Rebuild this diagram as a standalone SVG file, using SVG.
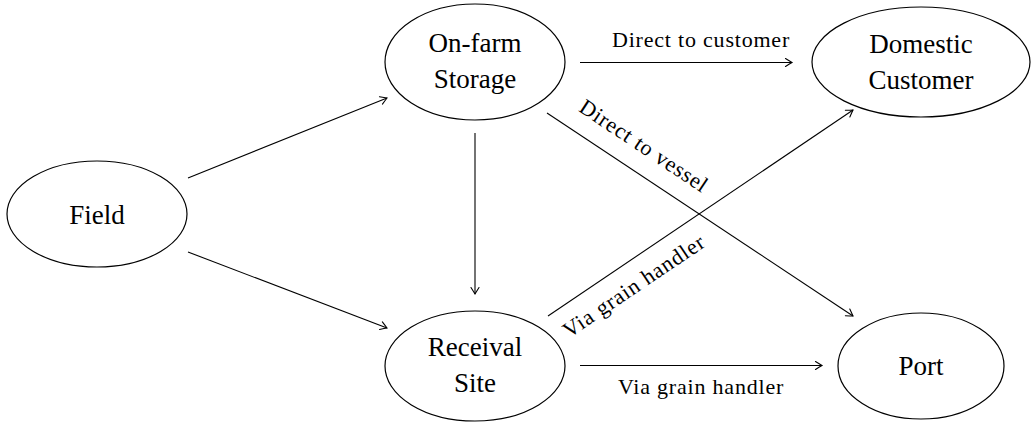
<svg xmlns="http://www.w3.org/2000/svg" width="1035" height="424" viewBox="0 0 1035 424">
  <style>
    .node ellipse { fill: #ffffff; stroke: #000000; stroke-width: 1.2; }
    .node text { font-family: "Liberation Serif", "DejaVu Serif", serif; font-size: 27px; fill: #000000; text-anchor: middle; }
    .edges line { stroke: #000000; stroke-width: 1.1; marker-end: url(#arrow); }
    .lbl { font-family: "Liberation Serif", "DejaVu Serif", serif; font-size: 22px; letter-spacing: 0.8px; fill: #000000; text-anchor: middle; }
  </style>
  <defs>
    <marker id="arrow" viewBox="-8 -5 10 10" refX="0" refY="0" markerWidth="10" markerHeight="10" markerUnits="userSpaceOnUse" orient="auto">
      <path d="M -6.5 -4 Q -2 -1.2 0 0 Q -2 1.2 -6.5 4" fill="none" stroke="#000000" stroke-width="1.1" stroke-linecap="round"/>
    </marker>
  </defs>
  <rect width="1035" height="424" fill="#ffffff"/>

  <g class="edges">
    <line x1="188" y1="178" x2="387" y2="98"/>
    <line x1="188" y1="252" x2="387" y2="328"/>
    <line x1="475" y1="133" x2="475" y2="294"/>
    <line x1="580" y1="62.5" x2="792" y2="62.5"/>
    <line x1="580" y1="365.5" x2="822" y2="365.5"/>
    <line x1="547" y1="113" x2="853" y2="316"/>
    <line x1="548" y1="316" x2="853" y2="110"/>
    <text class="lbl" x="701" y="47">Direct to customer</text>
    <text class="lbl" x="701" y="394">Via grain handler</text>
    <text class="lbl" transform="translate(640,152) rotate(33.6)">Direct to vessel</text>
    <text class="lbl" transform="translate(638,292) rotate(-34)">Via grain handler</text>
  </g>

  <g id="field" class="node">
    <ellipse cx="97" cy="214" rx="90" ry="53"/>
    <text x="97" y="224">Field</text>
  </g>
  <g id="storage" class="node">
    <ellipse cx="475" cy="62" rx="90" ry="58"/>
    <text x="475" y="52">On-farm</text>
    <text x="475" y="88">Storage</text>
  </g>
  <g id="receival" class="node">
    <ellipse cx="475" cy="366" rx="90" ry="55"/>
    <text x="475" y="356">Receival</text>
    <text x="475" y="392">Site</text>
  </g>
  <g id="domestic" class="node">
    <ellipse cx="921" cy="62" rx="109" ry="55"/>
    <text x="921" y="53">Domestic</text>
    <text x="921" y="89">Customer</text>
  </g>
  <g id="port" class="node">
    <ellipse cx="921" cy="366" rx="83" ry="53"/>
    <text x="921" y="375">Port</text>
  </g>
</svg>
